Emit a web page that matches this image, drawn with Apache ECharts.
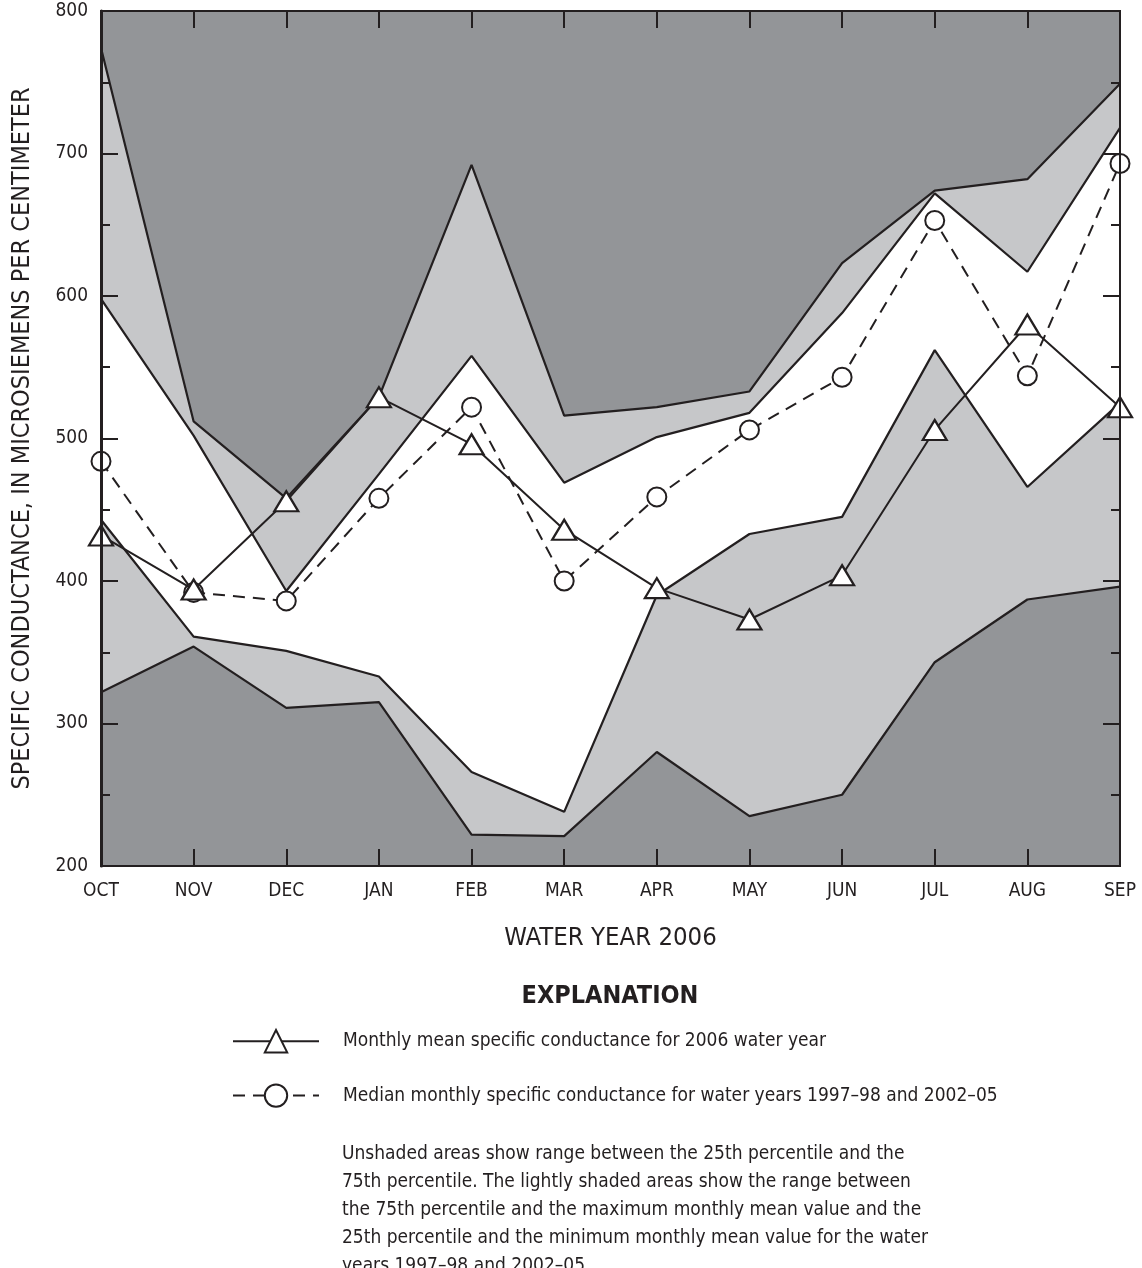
<!DOCTYPE html>
<html>
<head>
<meta charset="utf-8">
<script src="https://cdn.jsdelivr.net/npm/echarts@6/dist/echarts.min.js"></script>
<style>
  html, body { margin: 0; padding: 0; background: #ffffff; }
  #chart { width: 1142px; height: 1268px; }
</style>
</head>
<body>
<div id="chart"></div>
<script>
// Specific conductance, microsiemens per centimeter, by month of water year 2006
const months = ['OCT', 'NOV', 'DEC', 'JAN', 'FEB', 'MAR', 'APR', 'MAY', 'JUN', 'JUL', 'AUG', 'SEP'];
// Record statistics, water years 1997-98 and 2002-05
const maxMonthly = [774, 512, 458, 529, 692, 516, 522, 533, 623, 674, 682, 749];
const pct75 = [598, 502, 393, 475, 558, 469, 501, 518, 588, 672, 617, 718];
const pct25 = [443, 361, 351, 333, 266, 238, 390, 433, 445, 562, 466, 525];
const minMonthly = [322, 354, 311, 315, 222, 221, 280, 235, 250, 343, 387, 396];
const medianMonthly = [484, 392, 386, 458, 522, 400, 459, 506, 543, 653, 544, 693];
// Monthly mean for the 2006 water year
const mean2006 = [432, 394, 456, 529, 496, 436, 395, 373, 404, 506, 580, 522];
const yTicks = { min: 200, max: 800, step: 100 };

const FONT = "'Liberation Sans Narrow', 'DejaVu Sans Condensed', 'Roboto Condensed', 'Liberation Sans', sans-serif";
const INK = '#231f20';
const DARK = '#939598';
const LIGHT = '#c6c7c9';

function fill(name, data, color, z) {
  return {
    name: name, type: 'line', data: data, z: z,
    symbol: 'none', silent: true,
    lineStyle: { width: 0, opacity: 0 },
    areaStyle: { color: color, opacity: 1, origin: 'start' }
  };
}
function edge(name, data) {
  return {
    name: name, type: 'line', data: data, z: 10,
    symbol: 'none', silent: true,
    lineStyle: { color: INK, width: 2.2 }
  };
}

const chart = echarts.init(document.getElementById('chart'), null, { renderer: 'canvas' });

const tickStyle = { color: INK, width: 2 };

chart.setOption({
  backgroundColor: '#ffffff',
  animation: false,
  textStyle: { fontFamily: FONT, color: INK },
  grid: {
    left: 101, right: 22, top: 11, bottom: 402,
    outerBoundsMode: 'none',
    show: true, backgroundColor: DARK, borderColor: INK, borderWidth: 2
  },
  xAxis: [{
    type: 'category', data: months, boundaryGap: false, position: 'bottom', z: 40,
    axisLine: { show: true, lineStyle: { color: INK, width: 2 } },
    axisTick: { show: true, inside: true, length: 17, lineStyle: tickStyle },
    axisLabel: { color: INK, fontFamily: FONT, fontSize: 19, margin: 16 },
    splitLine: { show: false },
    name: 'WATER YEAR 2006', nameLocation: 'middle', nameGap: 59,
    nameTextStyle: { color: INK, fontFamily: FONT, fontSize: 25.5 }
  }, {
    type: 'category', data: months, boundaryGap: false, position: 'top', z: 40,
    axisLine: { show: true, lineStyle: { color: INK, width: 2 } },
    axisTick: { show: true, inside: true, length: 17, lineStyle: tickStyle },
    axisLabel: { show: false },
    splitLine: { show: false }
  }],
  yAxis: [{
    type: 'value', min: yTicks.min, max: yTicks.max, interval: yTicks.step, position: 'left', z: 40,
    axisLine: { show: true, lineStyle: { color: INK, width: 3 } },
    axisTick: { show: true, inside: true, length: 17, lineStyle: tickStyle },
    minorTick: { show: true, splitNumber: 2, length: 9, lineStyle: tickStyle },
    axisLabel: { color: INK, fontFamily: FONT, fontSize: 19, margin: 13, padding: [5, 0, 0, 0] },
    splitLine: { show: false },
    name: 'SPECIFIC CONDUCTANCE, IN MICROSIEMENS PER CENTIMETER',
    nameLocation: 'middle', nameGap: 66, nameRotate: 90,
    nameTextStyle: { color: INK, fontFamily: FONT, fontSize: 25 }
  }, {
    type: 'value', min: yTicks.min, max: yTicks.max, interval: yTicks.step, position: 'right', z: 40,
    axisLine: { show: true, lineStyle: { color: INK, width: 2 } },
    axisTick: { show: true, inside: true, length: 17, lineStyle: tickStyle },
    minorTick: { show: true, splitNumber: 2, length: 9, lineStyle: tickStyle },
    axisLabel: { show: false },
    splitLine: { show: false }
  }],
  legend: {
    orient: 'vertical', left: 232, top: 1029, padding: 0,
    itemWidth: 86, itemHeight: 28, itemGap: 30,
    data: ['Monthly mean specific conductance for 2006 water year',
           'Median monthly specific conductance for water years 1997–98 and 2002–05'],
    textStyle: { color: INK, fontFamily: FONT, fontSize: 19, padding: [0, 0, 0, 19] },
    selectedMode: false
  },
  graphic: [{
    type: 'text', x: 610, y: 984,
    style: { text: 'EXPLANATION', font: "bold 25px " + FONT, fill: INK, textAlign: 'center' }
  }, {
    type: 'text', left: 342, top: 1140,
    style: {
      text: 'Unshaded areas show range between the 25th percentile and the\n' +
            '75th percentile. The lightly shaded areas show the range between\n' +
            'the 75th percentile and the maximum monthly mean value and the\n' +
            '25th percentile and the minimum monthly mean value for the water\n' +
            'years 1997–98 and 2002–05.',
      font: "19px " + FONT, fill: INK, lineHeight: 28
    }
  }],
  series: [
    fill('max', maxMonthly, LIGHT, 1),
    fill('p75', pct75, '#ffffff', 2),
    fill('p25', pct25, LIGHT, 3),
    fill('min', minMonthly, DARK, 4),
    edge('max edge', maxMonthly),
    edge('p75 edge', pct75),
    edge('p25 edge', pct25),
    edge('min edge', minMonthly),
    {
      name: 'Median monthly specific conductance for water years 1997–98 and 2002–05',
      type: 'line', data: medianMonthly, z: 20,
      symbol: 'circle', symbolSize: 19,
      itemStyle: { color: '#ffffff', borderColor: INK, borderWidth: 2 },
      lineStyle: { color: INK, width: 2, type: [12, 8] }
    },
    {
      name: 'Monthly mean specific conductance for 2006 water year',
      type: 'line', data: mean2006, z: 21,
      symbol: 'triangle', symbolSize: [24, 20],
      itemStyle: { color: '#ffffff', borderColor: INK, borderWidth: 2.2 },
      lineStyle: { color: INK, width: 2 }
    }
  ]
});
</script>
</body>
</html>
